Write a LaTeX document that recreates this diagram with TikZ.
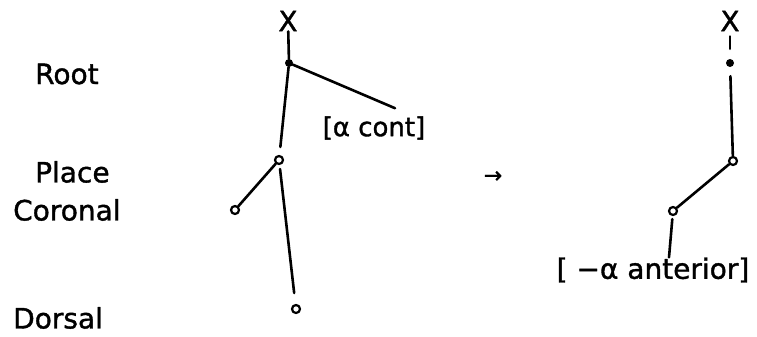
\documentclass[tikz,border=0pt]{standalone}
\usepackage{fontspec}
\setmainfont{DejaVu Sans}[BoldFont=DejaVu Sans,BoldFeatures={FakeBold=1.3}]
\usetikzlibrary{arrows.meta,calc,positioning}
\definecolor{treeInk}{HTML}{000000}
\definecolor{treePaper}{HTML}{FFFFFF}

\begin{document}
\begin{tikzpicture}[x=1pt,y=-1pt,>=Latex,line cap=round,line join=round]
\path[fill=treePaper] (0,0) rectangle (757,337);
\tikzset{branch/.style={draw=treeInk,line width=2.6pt},tier/.style={anchor=west,text=treeInk,font=\bfseries\fontsize{28}{32}\selectfont,inner sep=0pt},feat/.style={text=treeInk,font=\bfseries\fontsize{28}{32}\selectfont,inner sep=0pt},dotnode/.style={circle,fill=treeInk,inner sep=0pt,minimum size=8pt},ringnode/.style={circle,draw=treeInk,fill=treePaper,line width=2.2pt,inner sep=0pt,minimum size=8pt}}
% tier labels
\node[tier] (lblroot) at (35,74) {Root};
\node[tier] (lblplace) at (35,172) {Place};
\node[tier] (lblcor) at (13,210) {Coronal};
\node[tier] (lbldor) at (13,318) {Dorsal};
% input tree
\node[feat] (xl) at (288,21) {X};
\node[dotnode] (rootl) at (289,63) {};
\node[ringnode] (placel) at (279,160) {};
\node[ringnode] (corl) at (235,210) {};
\node[ringnode] (dorl) at (296,309) {};
\node[feat,font=\bfseries\fontsize{26}{30}\selectfont] (contl) at (374,128) {[α cont]};
\draw[branch] (xl) -- (rootl);
\draw[branch] (rootl) -- ([xshift=21pt,yshift=8pt]contl.north);
\draw[branch,shorten >=8pt] (rootl) -- (placel);
\draw[branch] (placel) -- (corl);
\draw[branch,shorten <=4pt,shorten >=11pt] (placel) -- (dorl);
% rule arrow
\node[text=treeInk,font=\bfseries\fontsize{22}{24}\selectfont,inner sep=0pt] (rulearrow) at (493,177) {→};
% output tree
\node[feat] (xr) at (730,21) {X};
\node[dotnode] (rootr) at (730,63) {};
\node[ringnode] (placer) at (733,161) {};
\node[ringnode] (corr) at (673,211) {};
\node[feat] (antr) at (653,270) {[ −α anterior]};
\draw[branch,shorten <=5pt,shorten >=10pt] (xr) -- (rootr);
\draw[branch,shorten <=9pt] (rootr) -- (placer);
\draw[branch] (placer) -- (corr);
\draw[branch,shorten <=3pt] (corr) -- ([xshift=16pt]antr.north);
\end{tikzpicture}
\end{document}
